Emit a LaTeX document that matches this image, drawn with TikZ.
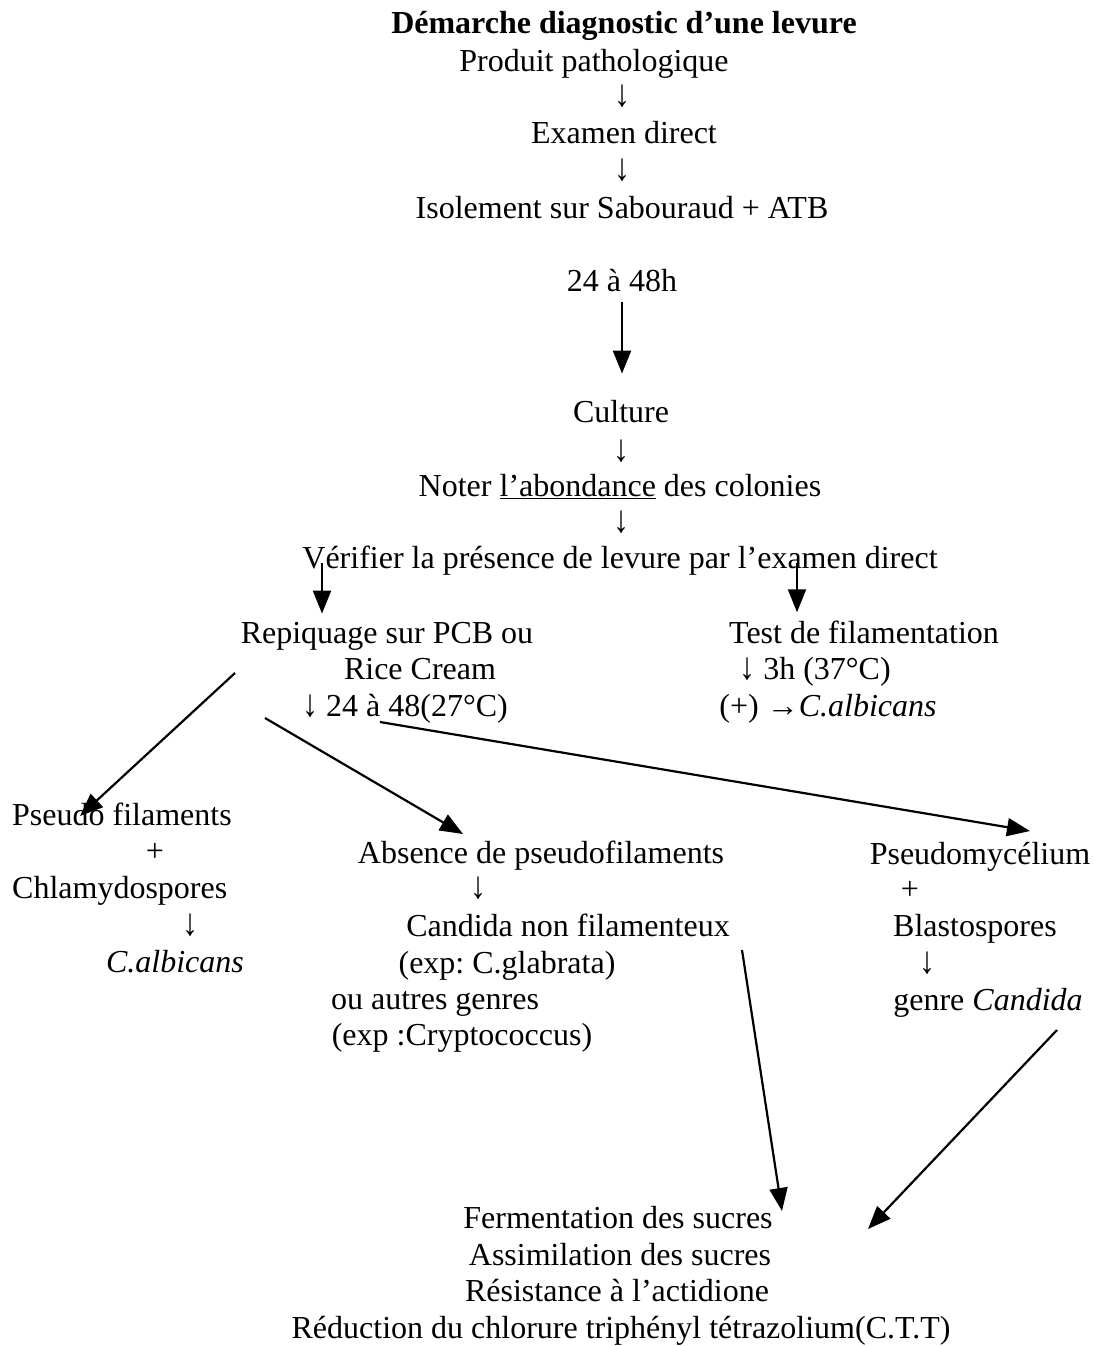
\documentclass[tikz,border=0pt]{standalone}
\usepackage{fontspec}
\setmainfont{Liberation Serif}
\usetikzlibrary{arrows.meta}
\newcommand{\dn}{\scalebox{1}[1.2]{↓}}

\begin{document}
\frenchspacing
\begin{tikzpicture}[
		x=1pt, y=-1pt
		,every node/.append style={inner sep=0pt, anchor=base, font=\fontsize{32}{38}\selectfont}
		,L/.style={anchor=base west}
		,arr/.style={line width=2.2pt, -{Triangle[length=23pt,width=18pt]}}
	]
	\useasboundingbox (0,0) rectangle (1094,1346);
	% main line
	\node [font=\fontsize{32}{38}\selectfont\bfseries] (T) at (624,34) {Démarche diagnostic d’une levure};
	\node (prod) at (594,71) {Produit pathologique};
	\node (d1) at (622,106) {\dn};
	\node (exam) at (624,143) {Examen direct};
	\node (d2) at (622,180) {\dn};
	\node (iso) at (622,218) {Isolement sur Sabouraud + ATB};
	\node (h24) at (622,291) {24 à 48h};
	\node (cult) at (621,422) {Culture};
	\node (d3) at (621,461) {\dn};
	\node (note) at (620,496) {Noter \underline{l’abondance} des colonies};
	\node (d4) at (621,532) {\dn};
	\node (ver) at (620,568) {Vérifier la présence de levure par l’examen direct};
	% two tests
	\node (rep) at (387,643) {Repiquage sur PCB ou};
	\node (rice) at (420,679) {Rice Cream};
	\node (rt) at (405,716) {\dn\ 24 à 48(27°C)};
	\node (test) at (864,643) {Test de filamentation};
	\node (tt) at (815,679) {\dn\ 3h (37°C)};
	\node (tres) at (828,716) {(+) →\textit{C.albicans}};
	% results
	\node [L] (ps) at (12,825) {Pseudo filaments};
	\node (psp) at (155,861) {+};
	\node [L] (chl) at (12,898) {Chlamydospores};
	\node (d5) at (190,935) {\dn};
	\node (cal) at (175,972) {\textit{C.albicans}};
	\node (abs) at (541,863) {Absence de pseudofilaments};
	\node (d6) at (478,898) {\dn};
	\node (cnf) at (568,936) {Candida non filamenteux};
	\node (glab) at (507,973) {(exp: C.glabrata)};
	\node (ou) at (435,1009) {ou autres genres};
	\node (cry) at (462,1045) {(exp :Cryptococcus)};
	\node (pm) at (980,864) {Pseudomycélium};
	\node (pmp) at (910,899) {+};
	\node (bla) at (975,936) {Blastospores};
	\node (d7) at (927,973) {\dn};
	\node (gc) at (988,1010) {genre \textit{Candida}};
	% identification
	\node (fer) at (618,1228) {Fermentation des sucres};
	\node (ass) at (620,1265) {Assimilation des sucres};
	\node (res) at (617,1301) {Résistance à l’actidione};
	\node (red) at (621,1338) {Réduction du chlorure triphényl tétrazolium(C.T.T)};
	% arrow ends
	\coordinate (v1) at (322,563);
	\coordinate (v2) at (797,563);
	\coordinate (a1) at (235,673);
	\coordinate (b1) at (80,816);
	\coordinate (a2) at (265,718);
	\coordinate (b2) at (463,834);
	\coordinate (a3) at (380,722);
	\coordinate (b3) at (1030,831);
	\coordinate (a4) at (742,950);
	\coordinate (b4) at (782,1211);
	\coordinate (a5) at (1057,1030);
	\coordinate (b5) at (868,1229);
	% arrows
	\draw [arr, shorten <=10pt, shorten >=26pt] (h24.south) -- (h24.south |- cult.north);
	\draw [arr, shorten >=8pt] (v1) -- (v1 |- rep.north);
	\draw [arr, shorten >=8pt] (v2) -- (v2 |- test.north);
	\draw [arr] (a1) -- (b1);
	\draw [arr] (a2) -- (b2);
	\draw [arr] (a3) -- (b3);
	\draw [arr] (a4) -- (b4);
	\draw [arr] (a5) -- (b5);
\end{tikzpicture}
\end{document}
